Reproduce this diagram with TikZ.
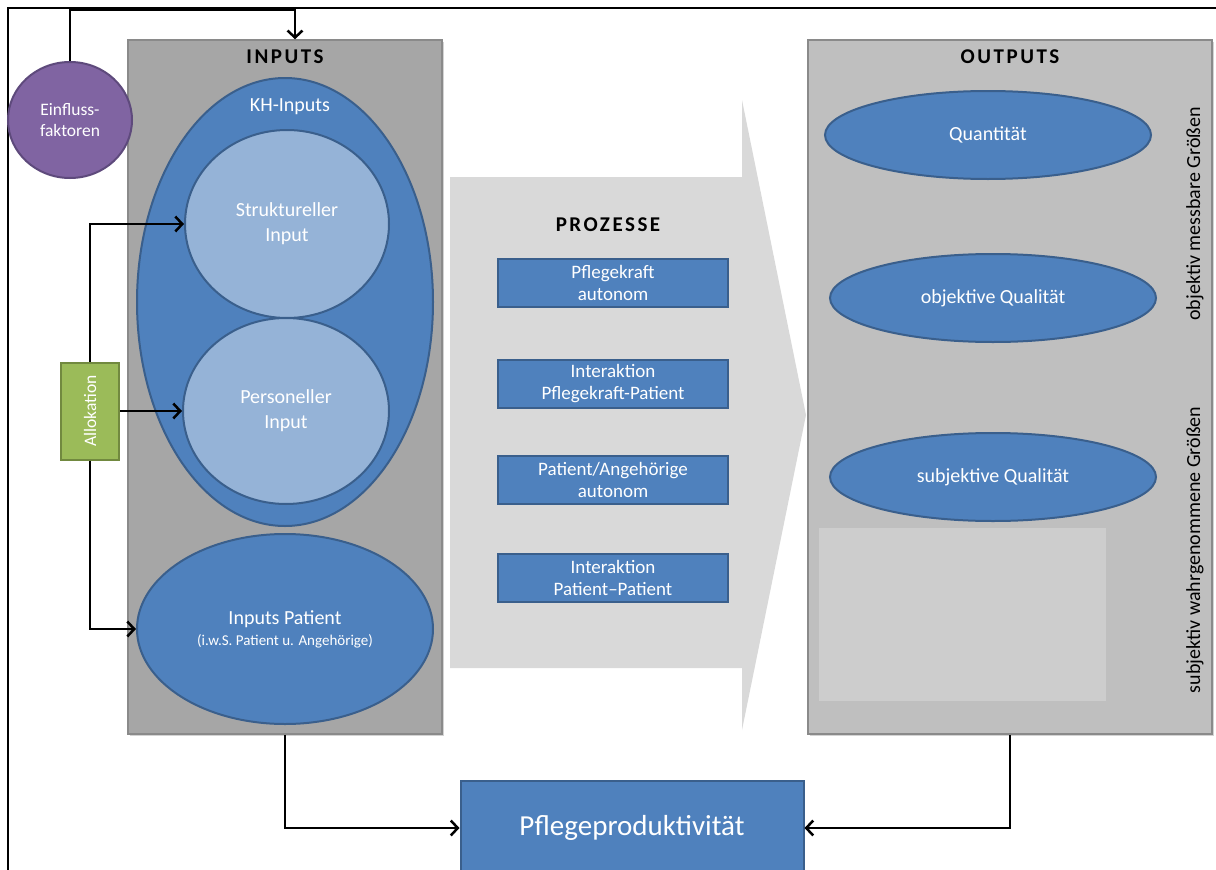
\documentclass[tikz,border=0pt]{standalone}
\usepackage{fontspec}
\setmainfont{Carlito}
\newfontfamily\titlefont{Carlito}[LetterSpace=12]
\usetikzlibrary{shapes.geometric,arrows.meta,shadows}
\definecolor{nodeblue}{HTML}{4F81BD}
\definecolor{blueline}{HTML}{3A5F8C}
\definecolor{lightblue}{HTML}{95B3D7}
\definecolor{ingray}{HTML}{A6A6A6}
\definecolor{outgray}{HTML}{BFBFBF}
\definecolor{panelline}{HTML}{8A8A8A}
\definecolor{procgray}{HTML}{D9D9D9}
\definecolor{restgray}{HTML}{CDCDCD}
\definecolor{einflusspurple}{HTML}{8064A2}
\definecolor{purpleline}{HTML}{5E4A7C}
\definecolor{allocgreen}{HTML}{9BBB59}
\definecolor{greenline}{HTML}{71893F}

\begin{document}
\begin{tikzpicture}[x=1pt, y=-1pt,
    conn/.style={draw, line width=2.5pt, -{Straight Barb[length=7pt, width=15pt, line width=2.5pt]}},
    panel/.style={draw=panelline, line width=1.5pt, inner sep=0pt,
        drop shadow={shadow xshift=2pt, shadow yshift=-2pt, opacity=.35}},
    oval/.style={ellipse, draw=blueline, line width=2pt, fill=nodeblue, text=white,
        inner sep=0pt, align=center, font=\fontsize{20}{25}\selectfont},
    circ/.style={oval, fill=lightblue},
    probox/.style={rectangle, draw=blueline, line width=2pt, fill=nodeblue, text=white,
        minimum width=230pt, minimum height=48pt, inner sep=0pt, align=center,
        font=\fontsize{19}{22}\selectfont},
    heading/.style={font=\titlefont\bfseries\fontsize{21}{23}\selectfont},
    sidetext/.style={rotate=90, font=\fontsize{20}{22}\selectfont}]
\useasboundingbox (0,0) rectangle (1216,870);
\clip (0,0) rectangle (1216,870);
\draw[line width=2.5pt] (8,875) -- (8,8) -- (1220,8);

% input and output panels
\node[panel, fill=ingray, minimum width=314pt, minimum height=694pt] (inputs) at (285,387) {};
\node[panel, fill=outgray, minimum width=404pt, minimum height=694pt] (outputs) at (1010,387) {};
\node[heading] (intitle) at (285,57) {INPUTS};
\node[heading] (outtitle) at (1010,57) {OUTPUTS};

% inputs
\node[oval, minimum width=296pt, minimum height=448pt] (kh) at (285,302) {};
\node[text=white, font=\fontsize{20}{22}\selectfont] (khlabel) at (290,107) {KH-Inputs};
\node[circ, minimum width=204pt, minimum height=188pt] (struk) at (287,224) {Struktureller\\Input};
\node[circ, minimum width=206pt, minimum height=186pt] (perso) at (286,411) {Personeller\\Input};
\node[oval, minimum width=296pt, minimum height=190pt] (patient) at (285,629)
    {Inputs Patient\\[-4pt]{\fontsize{15}{17}\selectfont(i.w.S. Patient u. Angehörige)}};

\node[ellipse, draw=purpleline, line width=2pt, fill=einflusspurple, text=white, inner sep=0pt,
    minimum width=124pt, minimum height=116pt, align=center,
    font=\fontsize{17.5}{21}\selectfont] (einfluss) at (70,120) {Einfluss-\\faktoren};
\node[draw=greenline, line width=2pt, fill=allocgreen, text=white, inner sep=0pt,
    minimum width=97pt, minimum height=58pt, rotate=90,
    font=\fontsize{17.5}{19}\selectfont] (alloc) at (90,411) {Allokation};

% processes
\fill[procgray] (450,177) -- (742,177) -- (742,100) -- (806,415) -- (742,730)
    -- (742,668) -- (450,668) -- cycle;
\node[heading] (protitle) at (608,225) {PROZESSE};
\foreach \y/\txt [count=\i] in {283/{Pflegekraft\\autonom},
        384/{Interaktion\\Pflegekraft-Patient},
        480/{Patient/Angehörige\\autonom},
        578/{Interaktion\\Patient--Patient}}
    \node[probox] (p\i) at (613,\y) {\txt};

% outputs
\fill[restgray] (819,528) rectangle (1106,701);
\foreach \x/\y/\txt [count=\i] in {988/135/Quantität, 993/298/objektive Qualität,
        993/477/subjektive Qualität}
    \node[oval, minimum width=326pt, minimum height=88pt] (o\i) at (\x,\y) {\txt};
\node[sidetext] (objlabel) at (1195,214) {objektiv messbare Größen};
\node[sidetext] (subjlabel) at (1195,550) {subjektiv wahrgenommene Größen};

% result
\node[rectangle, draw=blueline, line width=2pt, fill=nodeblue, text=white,
    minimum width=343pt, minimum height=94pt, inner sep=0pt,
    font=\fontsize{29}{32}\selectfont] (pflege) at (632,828) {Pflegeproduktivität};

% connectors
\coordinate (topbend) at (295,10);
\draw[conn] (einfluss.north) |- (topbend) -- (topbend |- inputs.north);
\draw[conn] (alloc.east) |- (struk.west);
\draw[conn] (alloc.south) -- (perso.west);
\draw[conn] (alloc.west) |- (patient.west);
\draw[conn] (inputs.south) |- (pflege.west);
\draw[conn] (outputs.south) |- (pflege.east);
\end{tikzpicture}
\end{document}
